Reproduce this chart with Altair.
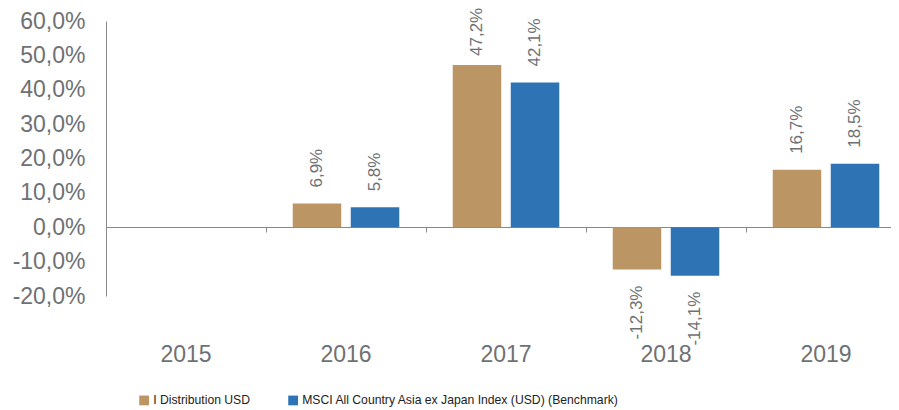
import altair as alt
import pandas as pd

years = ["2015", "2016", "2017", "2018", "2019"]
series_names = ["I Distribution USD", "MSCI All Country Asia ex Japan Index (USD) (Benchmark)"]
fund_values = [None, 6.9, 47.2, -12.3, 16.7]
bench_values = [None, 5.8, 42.1, -14.1, 18.5]
y_ticks = [-20, -10, 0, 10, 20, 30, 40, 50, 60]
colors = ["#BB9563", "#2E74B5"]

rows = []
for i, yr in enumerate(years):
    for name, vals in zip(series_names, [fund_values, bench_values]):
        if vals[i] is not None:
            rows.append({"year": yr, "series": name, "value": vals[i]})
df = pd.DataFrame(rows)
df["label"] = df["value"].map(lambda v: f"{v:.1f}".replace(".", ",") + "%")

GREY = "#6E7174"
AXIS = "#8A8A8A"
FONT = "Liberation Sans"

xscale = alt.Scale(domain=years, range=[0, 800], paddingInner=0, paddingOuter=0)
yscale = alt.Scale(domain=[-20, 60], nice=False, zero=False)
oscale = alt.Scale(domain=series_names, paddingInner=0.164, paddingOuter=0.461)

y_axis = alt.Axis(title=None, values=y_ticks, grid=False, ticks=False,
                  domain=True, domainColor=AXIS, labelPadding=21,
                  labelOverlap=False,
                  labelFont=FONT, labelFontSize=23, labelColor=GREY,
                  labelExpr="replace(replace(format(datum.value, '.1f'), '.', ','), '\u2212', '-') + '%'")

x_main = alt.X("year:N", scale=xscale, sort=years,
               axis=alt.Axis(title=None, ticks=False, domain=False, labelAngle=0,
                             labelFont=FONT, labelFontSize=23, labelColor=GREY,
                             labelPadding=47))

bars = alt.Chart(df).mark_bar().encode(
    x=x_main,
    xOffset=alt.XOffset("series:N", scale=oscale, sort=series_names),
    y=alt.Y("value:Q", scale=yscale, axis=y_axis),
    color=alt.Color("series:N", scale=alt.Scale(domain=series_names, range=colors),
                    legend=alt.Legend(title=None, orient="none", legendX=32, legendY=373,
                                      direction="horizontal", symbolType="square",
                                      symbolSize=95, symbolStrokeWidth=0,
                                      labelFont=FONT, labelFontSize=12.2, labelColor="#222222",
                                      labelLimit=0,
                                      labelOffset=3, columnPadding=36, padding=0)),
)


def label_layer(filter_expr, align, dx):
    return alt.Chart(df).transform_filter(filter_expr).mark_text(
        angle=270, align=align, baseline="middle", dx=dx, font=FONT, fontSize=17, color=GREY
    ).encode(
        x=alt.X("year:N", scale=xscale, sort=years, axis=None),
        xOffset=alt.XOffset("series:N", scale=oscale, sort=series_names),
        y=alt.Y("value:Q", scale=yscale, axis=y_axis),
        text="label:N",
    )


pos_labels = label_layer("datum.value >= 0 && datum.value < 45", "left", 16)
top_labels = label_layer("datum.value >= 45", "left", 9)
neg_labels = label_layer("datum.value < 0", "right", -16)

tick_df = pd.DataFrame({"year": years, "zero": [0] * len(years)})
zero_axis = alt.Chart(tick_df).mark_text(text="", opacity=0).encode(
    x=alt.X("year:N", scale=xscale, sort=years,
            axis=alt.Axis(title=None, labels=False, ticks=True, tickSize=5, tickColor=AXIS,
                          domain=True, domainColor=AXIS, bandPosition=0, offset=-69,
                          orient="bottom")),
    y=alt.Y("zero:Q", scale=yscale, axis=y_axis),
)

chart = alt.layer(bars, pos_labels, top_labels, neg_labels, zero_axis).resolve_axis(x="independent").properties(
    width=785, height=275, autosize="none",
    padding={"left": 98, "top": 13, "right": 0, "bottom": 112},
).configure_view(stroke=None).configure_axis(labelOverlap=False)

chart.save("out.html", embed_options={"renderer": "svg", "actions": False})
